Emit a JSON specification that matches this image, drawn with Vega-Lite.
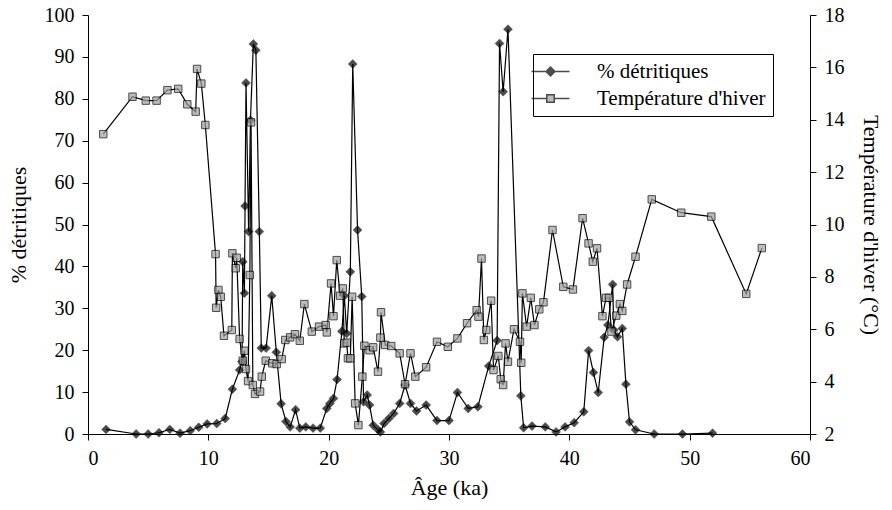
{
  "$schema": "https://vega.github.io/schema/vega-lite/v6.json",
  "width": 722,
  "height": 419,
  "autosize": {"type": "none"},
  "padding": {"left": 88, "top": 15, "right": 82, "bottom": 76},
  "background": "white",
  "config": {
    "view": {"stroke": null},
    "font": "Times New Roman",
    "axis": {
      "labelFont": "Times New Roman", "titleFont": "Times New Roman",
      "labelFontSize": 20, "titleFontSize": 22, "titleFontWeight": "normal",
      "labelColor": "black", "titleColor": "black", "domainColor": "black", "tickColor": "black",
      "grid": false, "tickSize": 6, "labelPadding": 8
    }
  },
  "datasets": {
    "det": [
      {"age": 1.5, "pct": 1.1}, {"age": 4.0, "pct": 0}, {"age": 5.0, "pct": 0}, {"age": 5.9, "pct": 0.3},
      {"age": 6.8, "pct": 1.1}, {"age": 7.65, "pct": 0.2}, {"age": 8.5, "pct": 0.8}, {"age": 9.2, "pct": 1.6},
      {"age": 9.9, "pct": 2.4}, {"age": 10.7, "pct": 2.5}, {"age": 11.4, "pct": 3.7}, {"age": 12.0, "pct": 10.7},
      {"age": 12.6, "pct": 15.3}, {"age": 12.8, "pct": 17.3}, {"age": 12.86, "pct": 41.1}, {"age": 13.0, "pct": 33.6},
      {"age": 13.05, "pct": 54.4}, {"age": 13.13, "pct": 83.8}, {"age": 13.35, "pct": 48.3}, {"age": 13.5, "pct": 74.9},
      {"age": 13.74, "pct": 93.1}, {"age": 13.95, "pct": 91.6}, {"age": 14.24, "pct": 48.3}, {"age": 14.4, "pct": 20.5},
      {"age": 14.8, "pct": 20.5}, {"age": 15.27, "pct": 33}, {"age": 15.65, "pct": 19.5}, {"age": 16.05, "pct": 7.2},
      {"age": 16.45, "pct": 3.0}, {"age": 16.8, "pct": 1.7}, {"age": 17.25, "pct": 5.8}, {"age": 17.6, "pct": 1.4},
      {"age": 18.1, "pct": 1.7}, {"age": 18.7, "pct": 1.4}, {"age": 19.3, "pct": 1.4}, {"age": 19.84, "pct": 6.1},
      {"age": 20.1, "pct": 7.3}, {"age": 20.4, "pct": 8.5}, {"age": 20.7, "pct": 13.0}, {"age": 21.1, "pct": 24.5},
      {"age": 21.3, "pct": 33.0}, {"age": 21.5, "pct": 24.0}, {"age": 21.8, "pct": 38.7}, {"age": 22.0, "pct": 88.3},
      {"age": 22.4, "pct": 48.7}, {"age": 22.75, "pct": 32.8}, {"age": 22.9, "pct": 7.7}, {"age": 23.2, "pct": 9.3},
      {"age": 23.4, "pct": 6.9}, {"age": 23.7, "pct": 2.1}, {"age": 24.1, "pct": 1.0}, {"age": 24.3, "pct": 0.5},
      {"age": 24.6, "pct": 2.5}, {"age": 25.0, "pct": 3.7}, {"age": 25.4, "pct": 4.9}, {"age": 25.9, "pct": 7.3},
      {"age": 26.35, "pct": 11.7}, {"age": 26.8, "pct": 7.3}, {"age": 27.3, "pct": 5.5}, {"age": 28.1, "pct": 6.9},
      {"age": 29.0, "pct": 3.2}, {"age": 30.0, "pct": 3.2}, {"age": 30.7, "pct": 9.9}, {"age": 31.6, "pct": 6.1},
      {"age": 32.4, "pct": 6.5}, {"age": 33.3, "pct": 16.2}, {"age": 34.0, "pct": 22.3}, {"age": 34.2, "pct": 93.2},
      {"age": 34.5, "pct": 81.7}, {"age": 34.9, "pct": 96.6}, {"age": 35.97, "pct": 9.1}, {"age": 36.2, "pct": 1.5},
      {"age": 36.9, "pct": 1.9}, {"age": 38.0, "pct": 1.7}, {"age": 38.9, "pct": 0.5}, {"age": 39.65, "pct": 1.7},
      {"age": 40.4, "pct": 2.7}, {"age": 41.2, "pct": 5.3}, {"age": 41.6, "pct": 19.9}, {"age": 42.0, "pct": 14.7},
      {"age": 42.4, "pct": 9.9}, {"age": 42.9, "pct": 23.1}, {"age": 43.2, "pct": 26.0}, {"age": 43.6, "pct": 35.7},
      {"age": 43.7, "pct": 24.8}, {"age": 44.0, "pct": 23.2}, {"age": 44.4, "pct": 25.2}, {"age": 44.7, "pct": 11.9},
      {"age": 45.0, "pct": 2.9}, {"age": 45.5, "pct": 1.0}, {"age": 47.05, "pct": 0}, {"age": 49.4, "pct": 0},
      {"age": 51.9, "pct": 0.2}
    ],
    "temp": [
      {"age": 1.27, "t": 13.45}, {"age": 3.7, "t": 14.88}, {"age": 4.8, "t": 14.73}, {"age": 5.7, "t": 14.73},
      {"age": 6.6, "t": 15.13}, {"age": 7.5, "t": 15.18}, {"age": 8.25, "t": 14.59}, {"age": 8.95, "t": 14.31},
      {"age": 9.06, "t": 15.94}, {"age": 9.42, "t": 15.38}, {"age": 9.75, "t": 13.8}, {"age": 10.6, "t": 8.87},
      {"age": 10.65, "t": 6.82}, {"age": 10.84, "t": 7.5}, {"age": 11.03, "t": 7.24}, {"age": 11.3, "t": 5.75},
      {"age": 11.95, "t": 5.97}, {"age": 12.0, "t": 8.9}, {"age": 12.28, "t": 8.33}, {"age": 12.36, "t": 8.73},
      {"age": 12.6, "t": 5.63}, {"age": 12.86, "t": 4.8}, {"age": 13.0, "t": 5.18}, {"age": 13.13, "t": 4.48},
      {"age": 13.3, "t": 4.02}, {"age": 13.45, "t": 8.07}, {"age": 13.55, "t": 13.9}, {"age": 13.7, "t": 3.87},
      {"age": 13.88, "t": 3.53}, {"age": 14.3, "t": 3.62}, {"age": 14.44, "t": 4.19}, {"age": 14.77, "t": 4.8},
      {"age": 15.3, "t": 4.7}, {"age": 15.68, "t": 4.67}, {"age": 16.1, "t": 4.86}, {"age": 16.4, "t": 5.59},
      {"age": 16.8, "t": 5.69}, {"age": 17.2, "t": 5.81}, {"age": 17.6, "t": 5.56}, {"age": 17.98, "t": 6.96},
      {"age": 18.6, "t": 5.91}, {"age": 19.2, "t": 6.1}, {"age": 19.75, "t": 6.16}, {"age": 19.85, "t": 5.88},
      {"age": 20.2, "t": 7.75}, {"age": 20.4, "t": 6.5}, {"age": 20.67, "t": 8.64}, {"age": 20.95, "t": 7.28},
      {"age": 21.17, "t": 7.56}, {"age": 21.3, "t": 5.46}, {"age": 21.5, "t": 5.49}, {"age": 21.6, "t": 4.89},
      {"age": 21.8, "t": 4.89}, {"age": 21.95, "t": 7.24}, {"age": 22.2, "t": 3.17}, {"age": 22.47, "t": 2.34},
      {"age": 22.8, "t": 4.19}, {"age": 22.97, "t": 5.37}, {"age": 23.4, "t": 5.2}, {"age": 23.7, "t": 5.31},
      {"age": 24.1, "t": 4.38}, {"age": 24.3, "t": 5.68}, {"age": 24.35, "t": 6.65}, {"age": 24.7, "t": 5.4},
      {"age": 25.2, "t": 5.36}, {"age": 25.9, "t": 5.08}, {"age": 26.35, "t": 3.9}, {"age": 26.8, "t": 5.08},
      {"age": 27.2, "t": 4.19}, {"age": 28.1, "t": 4.55}, {"age": 29.0, "t": 5.52}, {"age": 29.9, "t": 5.33},
      {"age": 30.7, "t": 5.65}, {"age": 31.5, "t": 6.23}, {"age": 32.3, "t": 6.73}, {"age": 32.45, "t": 6.48},
      {"age": 32.7, "t": 8.7}, {"age": 32.9, "t": 5.59}, {"age": 33.1, "t": 5.97}, {"age": 33.5, "t": 7.09},
      {"age": 33.7, "t": 4.44}, {"age": 34.1, "t": 4.98}, {"age": 34.3, "t": 4.09}, {"age": 34.5, "t": 3.87},
      {"age": 34.7, "t": 5.46}, {"age": 34.9, "t": 4.76}, {"age": 35.4, "t": 6.0}, {"age": 35.9, "t": 5.52},
      {"age": 36.0, "t": 4.72}, {"age": 36.1, "t": 7.37}, {"age": 36.45, "t": 6.1}, {"age": 36.8, "t": 7.2},
      {"age": 37.1, "t": 6.16}, {"age": 37.5, "t": 6.76}, {"age": 37.85, "t": 7.03}, {"age": 38.6, "t": 9.79},
      {"age": 39.5, "t": 7.62}, {"age": 40.3, "t": 7.52}, {"age": 41.1, "t": 10.24}, {"age": 41.6, "t": 9.28},
      {"age": 41.95, "t": 8.58}, {"age": 42.3, "t": 9.09}, {"age": 42.75, "t": 6.5}, {"age": 43.05, "t": 7.2},
      {"age": 43.3, "t": 7.2}, {"age": 43.5, "t": 5.91}, {"age": 43.9, "t": 6.52}, {"age": 44.2, "t": 6.96},
      {"age": 44.4, "t": 6.7}, {"age": 44.8, "t": 7.71}, {"age": 45.5, "t": 8.77}, {"age": 46.85, "t": 10.96},
      {"age": 49.3, "t": 10.45}, {"age": 51.8, "t": 10.3}, {"age": 54.7, "t": 7.35}, {"age": 56.0, "t": 9.1}
    ]
  },
  "encoding": {
    "x": {
      "field": "age", "type": "quantitative",
      "scale": {"domain": [0, 60], "nice": false},
      "axis": {"title": "Âge (ka)", "values": [0, 10, 20, 30, 40, 50, 60], "titlePadding": 9,
               "labelFont": "Times New Roman", "titleFont": "Times New Roman"}
    }
  },
  "layer": [
    {
      "data": {"name": "det"},
      "encoding": {
        "y": {
          "field": "pct", "type": "quantitative",
          "scale": {"domain": [0, 100], "nice": false},
          "axis": {"title": "% détritiques", "orient": "left", "values": [0, 10, 20, 30, 40, 50, 60, 70, 80, 90, 100], "titlePadding": 14,
                   "labelFont": "Times New Roman", "titleFont": "Times New Roman"}
        }
      },
      "layer": [
        {"mark": {"type": "line", "color": "black", "strokeWidth": 1.2}},
        {"mark": {"type": "point", "shape": "diamond", "filled": true, "fill": "black", "stroke": "black", "strokeWidth": 0.5, "size": 80}},
        {
          "transform": [{"filter": "datum.age < 0"}],
          "mark": {"type": "point", "filled": true, "stroke": "black", "strokeWidth": 1.2},
          "encoding": {
            "shape": {
              "datum": "% détritiques", "type": "nominal",
              "scale": {"domain": ["% détritiques", "Température d'hiver"],
                        "range": ["M-3.8,0H3.8M0,-0.9L0.9,0L0,0.9L-0.9,0Z", "M-3.8,0H-0.75M0.75,0H3.8M-0.75,-0.75H0.75V0.75H-0.75Z"]},
              "legend": {
                "title": null, "orient": "none", "legendX": 445, "legendY": 39,
                "strokeColor": "black", "fillColor": "white", "padding": 7,
                "symbolSize": 100, "labelOffset": 36, "rowPadding": 5, "labelLimit": 400,
                "labelFont": "Times New Roman", "labelFontSize": 21, "labelColor": "black"
              }
            },
            "fill": {
              "datum": "% détritiques", "type": "nominal",
              "scale": {"domain": ["% détritiques", "Température d'hiver"], "range": ["black", "#a0a0a0"]},
              "legend": {
                "title": null, "orient": "none", "legendX": 445, "legendY": 39,
                "strokeColor": "black", "fillColor": "white", "padding": 7,
                "symbolSize": 100, "labelOffset": 36, "rowPadding": 5, "labelLimit": 400,
                "labelFont": "Times New Roman", "labelFontSize": 21, "labelColor": "black"
              }
            }
          }
        }
      ]
    },
    {
      "data": {"name": "temp"},
      "encoding": {
        "y": {
          "field": "t", "type": "quantitative",
          "scale": {"domain": [2, 18], "nice": false},
          "axis": {"title": "Température d'hiver (°C)", "orient": "right", "values": [2, 4, 6, 8, 10, 12, 14, 16, 18], "titlePadding": 14,
                   "labelFont": "Times New Roman", "titleFont": "Times New Roman"}
        }
      },
      "layer": [
        {"mark": {"type": "line", "color": "black", "strokeWidth": 1.2}},
        {"mark": {"type": "point", "shape": "square", "filled": true, "fill": "#a0a0a0", "stroke": "black", "strokeWidth": 1, "size": 55}}
      ]
    }
  ],
  "resolve": {"scale": {"y": "independent"}}
}
